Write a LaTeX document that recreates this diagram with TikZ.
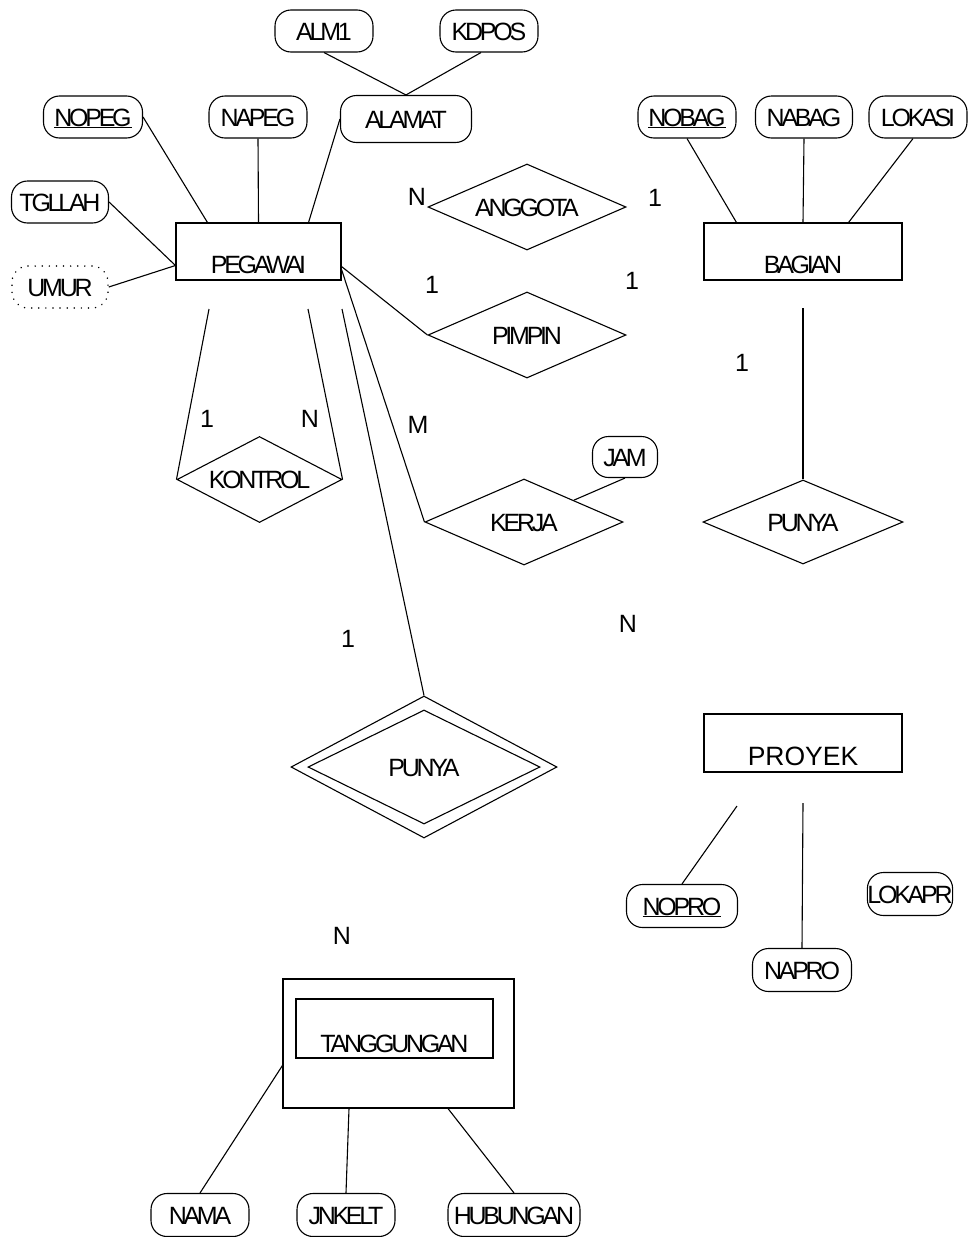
\documentclass[tikz,border=0pt]{standalone}
\usepackage{fontspec}
\setmainfont{Liberation Sans}
\newfontfamily\tightsf{Liberation Sans}[LetterSpace=-13]
\usepackage{tikz}
\usetikzlibrary{shapes.geometric}
\usetikzlibrary{calc}

\begin{document}
\begin{tikzpicture}[x=1pt, y=-1pt,
			every node/.style={inner sep=0pt, font=\tightsf\fontsize{25}{30}\selectfont},
			edge/.style={line width=1.1pt},
			attr/.style={draw, line width=1.1pt, rounded corners=16pt, minimum width=98pt, minimum height=42pt, text height=18pt, text depth=0pt},
			derived/.style={attr, line width=1.6pt, line cap=round, dash pattern=on 0.1pt off 7pt},
			entity/.style={draw, line width=1.1pt, minimum width=198pt, minimum height=57pt, text height=50pt, text depth=7pt},
			rel/.style={draw, diamond, aspect=2.3, line width=1.1pt, minimum width=198pt, minimum height=86pt, text height=18pt, text depth=0pt},
			card/.style={font=\fontsize{25}{30}\selectfont, text height=18pt, text depth=0pt}
		]
		\useasboundingbox (0,0) rectangle (968,1237);

		% entities
		\node[entity, minimum width=165pt] (pegawai) at (258.5,251.5) {PEGAWAI};
		\node[entity] (bagian) at (803,251.5) {BAGIAN};
		\node[entity, minimum height=58pt, text height=51pt, font=\fontsize{26.5}{30}\selectfont] (proyek) at (803,743) {PROYEK};
		\node[draw, line width=1.1pt, minimum width=231pt, minimum height=129pt] (tanggout) at (398.5,1043.5) {};
		\node[entity, minimum width=197pt, minimum height=59pt, text height=53pt, text depth=6pt] (tanggungan) at (394.5,1028.5) {TANGGUNGAN};

		% attributes
		\node[attr] (alm1) at (324,31) {ALM1};
		\node[attr] (kdpos) at (489,31) {KDPOS};
		\node[attr, minimum width=131pt, minimum height=47pt] (alamat) at (406,119) {ALAMAT};
		\node[attr, minimum width=99pt] (nopeg) at (93,117) {\underline{NOPEG}};
		\node[attr] (napeg) at (258,117) {NAPEG};
		\node[attr, minimum width=97pt] (tgllah) at (60,202) {TGLLAH};
		\node[derived, minimum width=96pt] (umur) at (60,287) {UMUR};
		\node[attr] (nobag) at (687,117) {\underline{NOBAG}};
		\node[attr, minimum width=97pt] (nabag) at (804,117) {NABAG};
		\node[attr] (lokasi) at (918,117) {LOKASI};
		\node[attr, minimum width=65pt, minimum height=41pt] (jam) at (625,457) {JAM};
		\node[attr, minimum width=111pt, minimum height=43pt] (nopro) at (682,906) {\underline{NOPRO}};
		\node[attr, minimum width=99pt, minimum height=43pt] (napro) at (802,970) {NAPRO};
		\node[attr, minimum width=82pt, minimum height=43pt] (lokapr) at (910,894) {LOKAPR};
		\node[attr, minimum height=43pt] (nama) at (200,1215) {NAMA};
		\node[attr, minimum height=43pt] (jnkelt) at (346,1215) {JNKELT};
		\node[attr, minimum width=132pt, minimum height=43pt] (hubungan) at (514,1215) {HUBUNGAN};

		% relationships
		\node[rel] (anggota) at (527,207) {ANGGOTA};
		\node[rel] (pimpin) at (527,335) {PIMPIN};
		\node[rel, minimum width=165pt, aspect=1.9] (kontrol) at (259.5,479.5) {KONTROL};
		\node[rel] (kerja) at (524,522) {KERJA};
		\node[rel, minimum width=200pt, minimum height=84pt] (punya) at (803,522) {PUNYA};
		\node[rel, minimum width=266pt, minimum height=142pt] (wpunya) at (424,767) {};
		\node[rel, minimum width=232pt, minimum height=114pt] (wpunyain) at (424,767) {PUNYA};

		% free ends
		\coordinate (k1) at (209,309);
		\coordinate (k2) at (308,309);
		\coordinate (w1) at (342,309);
		\coordinate (b1) at (803,308);
		\coordinate (p1) at (737,806);
		\coordinate (p2) at (803,803);

		\draw[edge] (nopeg.east) -- ($(pegawai.north west)+(32,0)$);
		\draw[edge] (napeg.south) -- (pegawai.north);
		\draw[edge] (alamat.west) -- ($(pegawai.north east)+(-33,0)$);
		\draw[edge] (tgllah.east) -- ($(pegawai.west)+(0,14)$);
		\draw[edge] (umur.east) -- ($(pegawai.west)+(0,14)$);
		\draw[edge] (alm1.south) -- (alamat.north);
		\draw[edge] ($(kdpos.south)+(-8,0)$) -- (alamat.north);
		\draw[edge] ($(pegawai.east)+(0,15)$) -- (pimpin.west);
		\draw[edge] ($(pegawai.east)+(0,18)$) -- (kerja.west);
		\draw[edge] (k1) -- (kontrol.west);
		\draw[edge] (k2) -- (kontrol.east);
		\draw[edge] (w1) -- (wpunya.north);
		\draw[edge] (nobag.south) -- ($(bagian.north west)+(33,0)$);
		\draw[edge] (nabag.south) -- (bagian.north);
		\draw[edge] ($(lokasi.south)+(-5,0)$) -- ($(bagian.north east)+(-54,0)$);
		\draw[edge] (b1) -- (punya.north);
		\draw[edge] (jam.south) -- ($(kerja.north)!0.5!(kerja.east)$);
		\draw[edge] (p1) -- (nopro.north);
		\draw[edge] (p2) -- (napro.north);
		\draw[edge] (nama.north) -- ($(tanggout.west)+(0,22)$);
		\draw[edge] (jnkelt.north) -- ($(tanggout.south)+(-49.5,0)$);
		\draw[edge] (hubungan.north) -- ($(tanggout.south)+(49.5,0)$);

		% cardinalities
		\node[card] (cAngL) at (417,196) {N};
		\node[card] (cAngR) at (655,197) {1};
		\node[card] (cPimL) at (432,284) {1};
		\node[card] (cPimR) at (632,280) {1};
		\node[card] (cBag) at (742,362) {1};
		\node[card] (cKonL) at (207,418) {1};
		\node[card] (cKonR) at (310,418) {N};
		\node[card] (cKer) at (418,424) {M};
		\node[card] (cPro) at (628,623) {N};
		\node[card] (cPunT) at (348,638) {1};
		\node[card] (cPunB) at (342,935) {N};
	\end{tikzpicture}
\end{document}
